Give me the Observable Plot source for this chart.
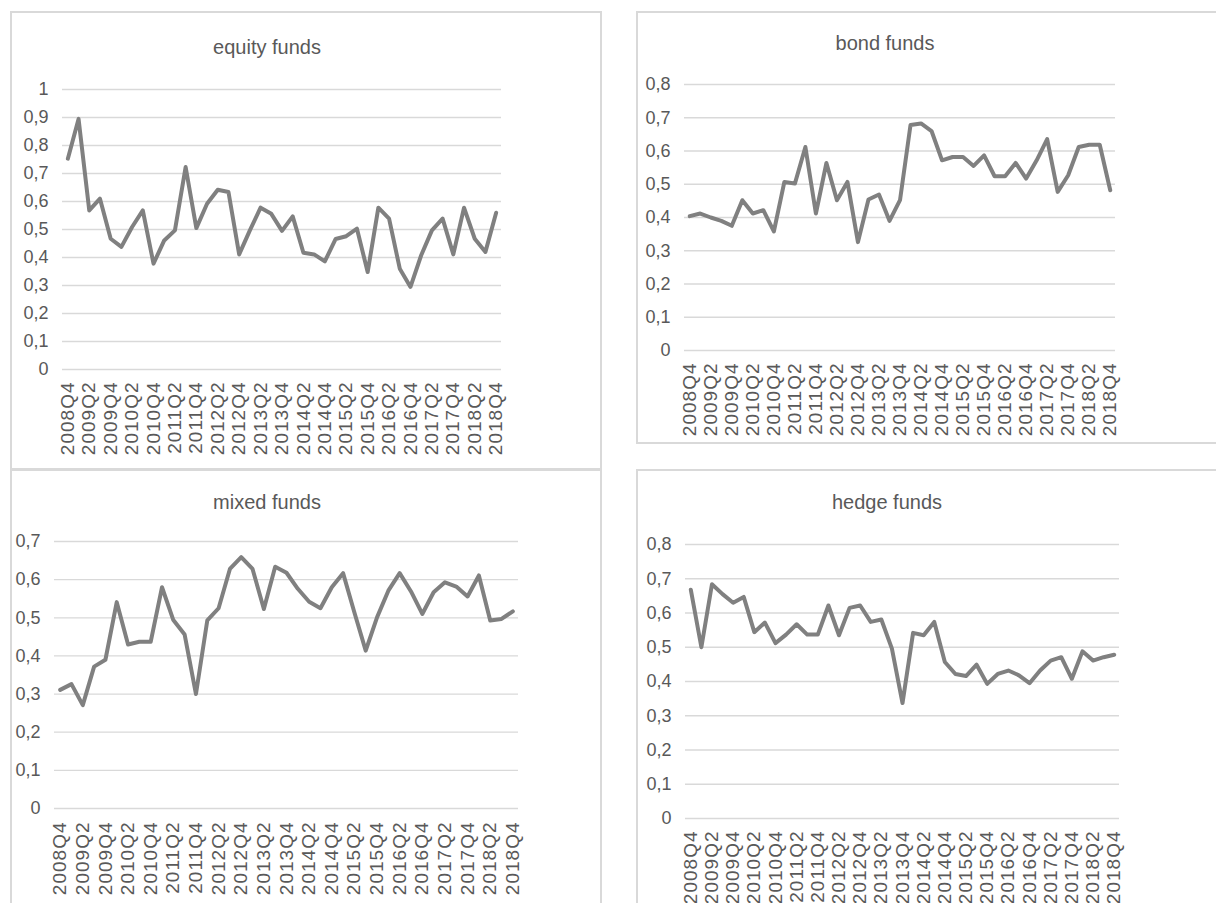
<!DOCTYPE html>
<html><head><meta charset="utf-8">
<script src="https://cdn.jsdelivr.net/npm/d3@7"></script>
<script src="https://cdn.jsdelivr.net/npm/@observablehq/plot@0.6"></script>
<style>
html,body{margin:0;padding:0;background:#fff;}
body{width:1216px;height:903px;overflow:hidden;position:relative;font-family:"Liberation Sans",Arial,sans-serif;}
.panel{position:absolute;border:2px solid #d9d9d9;box-sizing:border-box;}
.chart{position:absolute;}
.title{position:absolute;font-size:20px;color:#595959;transform:translate(-50%,-50%);white-space:nowrap;}
.xax text{letter-spacing:1px;font-size:19px;}
.yax text{font-size:18px;}
</style></head><body>
<script>
const quarters = ["2008Q4","2009Q1","2009Q2","2009Q3","2009Q4","2010Q1","2010Q2","2010Q3","2010Q4",
  "2011Q1","2011Q2","2011Q3","2011Q4","2012Q1","2012Q2","2012Q3","2012Q4","2013Q1","2013Q2","2013Q3","2013Q4",
  "2014Q1","2014Q2","2014Q3","2014Q4","2015Q1","2015Q2","2015Q3","2015Q4","2016Q1","2016Q2","2016Q3","2016Q4",
  "2017Q1","2017Q2","2017Q3","2017Q4","2018Q1","2018Q2","2018Q3","2018Q4"];
const tickLabels = ["2008Q4","2009Q2","2009Q4","2010Q2","2010Q4","2011Q2","2011Q4","2012Q2","2012Q4","2013Q2",
  "2013Q4","2014Q2","2014Q4","2015Q2","2015Q4","2016Q2","2016Q4","2017Q2","2017Q4","2018Q2","2018Q4"];

const equity = [0.753,0.895,0.568,0.610,0.467,0.438,0.509,0.568,0.378,0.461,0.497,0.723,0.505,0.592,0.642,0.634,
  0.411,0.497,0.578,0.556,0.495,0.547,0.417,0.411,0.386,0.466,0.476,0.503,0.348,0.578,0.539,0.360,0.295,0.408,
  0.497,0.539,0.411,0.578,0.467,0.420,0.560];
const bond = [0.404,0.412,0.400,0.390,0.375,0.452,0.412,0.422,0.358,0.507,0.502,0.612,0.412,0.564,0.452,0.507,
  0.326,0.454,0.469,0.390,0.452,0.678,0.683,0.660,0.572,0.582,0.582,0.555,0.587,0.524,0.524,0.564,0.517,0.572,
  0.636,0.477,0.527,0.612,0.619,0.619,0.482];
const mixed = [0.311,0.326,0.271,0.372,0.390,0.541,0.430,0.437,0.437,0.580,0.494,0.456,0.300,0.493,0.525,0.628,
  0.659,0.628,0.523,0.634,0.618,0.576,0.542,0.525,0.580,0.617,0.514,0.414,0.501,0.571,0.617,0.569,0.510,0.567,
  0.593,0.582,0.556,0.611,0.493,0.497,0.517];
const hedge = [0.668,0.500,0.684,0.655,0.630,0.647,0.544,0.572,0.512,0.537,0.567,0.537,0.537,0.622,0.535,0.615,
  0.622,0.574,0.581,0.496,0.337,0.542,0.535,0.574,0.457,0.422,0.416,0.449,0.393,0.422,0.432,0.418,0.395,0.432,
  0.461,0.471,0.408,0.488,0.461,0.471,0.478];

const titles = ["equity funds","bond funds","mixed funds","hedge funds"];
const yTicksEquity = [0,0.1,0.2,0.3,0.4,0.5,0.6,0.7,0.8,0.9,1];
const yTicks08 = [0,0.1,0.2,0.3,0.4,0.5,0.6,0.7,0.8];
const yTicks07 = [0,0.1,0.2,0.3,0.4,0.5,0.6,0.7];

const fmt = d => String(+d.toFixed(1)).replace(".", ",");
const xTicks = tickLabels.map(l => quarters.indexOf(l));

function addDiv(cls, css, text) {
  const d = document.createElement("div");
  d.className = cls;
  Object.assign(d.style, css);
  if (text) d.textContent = text;
  document.body.appendChild(d);
  return d;
}

function makePanel(cfg) {
  addDiv("panel", {left: cfg.box[0]+"px", top: cfg.box[1]+"px", width: cfg.box[2]+"px", height: cfg.box[3]+"px"});
  const data = quarters.map((q, i) => ({i, q, v: cfg.values[i]}));
  const chart = Plot.plot({
    width: cfg.w, height: cfg.h,
    marginLeft: cfg.m[0], marginTop: cfg.m[1], marginRight: cfg.m[2], marginBottom: cfg.m[3],
    x: {type: "linear", domain: [-0.5, quarters.length - 0.5], axis: null},
    y: {domain: [0, cfg.yTicks[cfg.yTicks.length-1]], axis: null},
    style: {fontFamily: "'Liberation Sans', Arial, sans-serif", fontSize: "18px", color: "#595959", background: "transparent", overflow: "visible"},
    marks: [
      Plot.ruleY(cfg.yTicks, {stroke: "#d9d9d9", strokeWidth: 1.3}),
      Plot.axisY({ticks: cfg.yTicks, tickSize: 0, tickPadding: 14, tickFormat: fmt, label: null, className: "yax"}),
      Plot.axisX({ticks: xTicks, tickSize: 0, tickRotate: -90, tickPadding: cfg.xpad, tickFormat: i => quarters[i], label: null, className: "xax"}),
      Plot.line(data, {x: "i", y: "v", stroke: "#808080", strokeWidth: 4, strokeLinejoin: "round", strokeLinecap: "round"})
    ]
  });
  const wrap = addDiv("chart", {left: cfg.pos[0]+"px", top: cfg.pos[1]+"px"});
  wrap.appendChild(chart);
  addDiv("title", {left: cfg.title[0]+"px", top: cfg.title[1]+"px"}, cfg.name);
}

makePanel({name: titles[0], values: equity, yTicks: yTicksEquity, xpad: 12,
  box: [10, 11, 592, 460], pos: [11, 12], w: 590, h: 457, m: [51, 77, 100, 100], title: [267, 47]});
makePanel({name: titles[1], values: bond, yTicks: yTicks08, xpad: 12,
  box: [636, 11, 700, 433], pos: [637, 12], w: 579, h: 431, m: [47, 72, 101, 93], title: [885, 43]});
makePanel({name: titles[2], values: mixed, yTicks: yTicks07, xpad: 13,
  box: [10, 468, 592, 500], pos: [11, 469], w: 590, h: 434, m: [43, 72, 83, 95], title: [267, 502]});
makePanel({name: titles[3], values: hedge, yTicks: yTicks08, xpad: 12,
  box: [636, 469, 700, 500], pos: [637, 470], w: 579, h: 433, m: [48, 74, 97, 85], title: [887, 502]});
</script>
</body></html>
